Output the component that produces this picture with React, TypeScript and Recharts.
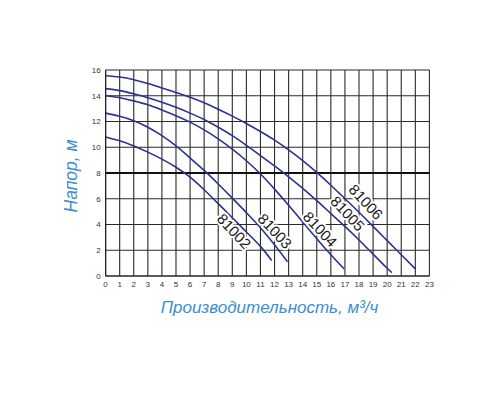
import React from "react";
import { LineChart, Line, XAxis, YAxis, CartesianGrid, ReferenceLine, ReferenceDot } from "recharts";

const xTicks = [0,1,2,3,4,5,6,7,8,9,10,11,12,13,14,15,16,17,18,19,20,21,22,23];
const yTicks = [0,2,4,6,8,10,12,14,16];

const q81002 = [0,1,2,3,4,5,6,7,8,9,10,11,11.8];
const h81002 = [10.8,10.5,10.1,9.62,9.08,8.45,7.68,6.7,5.62,4.52,3.42,2.3,1.2];

const q81003 = [0,1,2,3,4,5,6,7,8,9,10,11,12,12.92];
const h81003 = [12.65,12.4,12.05,11.55,10.9,10.1,9.17,8.2,7.15,6.05,4.92,3.75,2.42,1.1];

const q81004 = [0,1,2,3,4,5,6,7,8,9,10,11,12,13,14,15,16,16.95];
const h81004 = [14.0,13.85,13.6,13.3,12.9,12.45,11.95,11.35,10.65,9.85,8.95,7.92,6.75,5.5,4.2,2.9,1.65,0.54];

const q81005 = [0,1,2,3,4,5,6,7,8,9,10,11,12,13,14,15,16,17,18,19,20,20.34];
const h81005 = [14.55,14.4,14.15,13.85,13.5,13.1,12.65,12.15,11.55,10.9,10.15,9.35,8.55,7.7,6.8,5.85,4.85,3.85,2.8,1.7,0.6,0.26];

const q81006 = [0,1,2,3,4,5,6,7,8,9,10,11,12,13,14,15,16,17,18,19,20,21,22];
const h81006 = [15.55,15.45,15.25,14.95,14.6,14.25,13.88,13.45,12.95,12.42,11.85,11.22,10.55,9.8,8.97,8.05,7.05,6.0,4.95,3.85,2.75,1.65,0.55];

const seriesNames = ["81002","81003","81004","81005","81006"];
const labelX = [9.13, 12.04, 15.25, 17.2, 18.5];
const labelY = [3.49, 3.5, 3.64, 4.86, 5.76];

const build = (q: number[], h: number[]) => q.map((x, i) => ({ x, y: h[i] }));
const seriesData = [
  build(q81002, h81002),
  build(q81003, h81003),
  build(q81004, h81004),
  build(q81005, h81005),
  build(q81006, h81006),
];

const CURVE = "#2d3290";
const FONT = "'Liberation Sans', Arial, sans-serif";
const TITLE = "#3a8fd0";

const CurveLabel = (text: string) => (props: any) => {
  const { cx, cy } = props;
  if (cx == null || cy == null) return <g />;
  return (
    <text
      x={cx}
      y={cy}
      transform={`rotate(47 ${cx} ${cy})`}
      textAnchor="middle"
      dominantBaseline="central"
      fontFamily={FONT}
      fontSize={15}
      fill="#1a1a1a"
      stroke="#ffffff"
      strokeWidth={4}
      paintOrder="stroke"
    >
      {text}
    </text>
  );
};

export default function App() {
  return (
    <div style={{ position: "relative", width: 500, height: 400, background: "#fff" }}>
      <LineChart
        width={500}
        height={400}
        margin={{ top: 62, right: 78.6, bottom: 112, left: 77.6 }}
      >
        <CartesianGrid stroke="#2a2a2a" strokeWidth={1.1} />
        <XAxis
          type="number"
          dataKey="x"
          domain={[0, 23]}
          ticks={xTicks}
          interval={0}
          allowDataOverflow
          height={20}
          tickLine={false}
          tickSize={3}
          tickMargin={2}
          axisLine={{ stroke: "#222", strokeWidth: 1.2 }}
          tick={{ fontSize: 8, fill: "#333", fontFamily: FONT }}
        />
        <YAxis
          type="number"
          domain={[0, 16]}
          ticks={yTicks}
          interval={0}
          allowDataOverflow
          width={20}
          tickLine={false}
          tickSize={3}
          tickMargin={2}
          axisLine={{ stroke: "#222", strokeWidth: 1.2 }}
          tick={{ fontSize: 8, fill: "#333", fontFamily: FONT }}
        />
        <ReferenceLine y={8} stroke="#111" strokeWidth={2} />
        {seriesData.map((d, i) => (
          <Line
            key={seriesNames[i]}
            data={d}
            dataKey="y"
            type="natural"
            stroke={CURVE}
            strokeWidth={1.6}
            dot={false}
            activeDot={false}
            isAnimationActive={false}
          />
        ))}
        {seriesNames.map((n, i) => (
          <ReferenceDot
            key={"lbl" + n}
            x={labelX[i]}
            y={labelY[i]}
            r={0}
            shape={CurveLabel(n)}
          />
        ))}
      </LineChart>
      <svg
        width={500}
        height={400}
        style={{ position: "absolute", left: 0, top: 0, pointerEvents: "none" }}
      >
        <text
          x={261.5}
          y={305}
          textAnchor="middle"
          fontFamily={FONT}
          fontStyle="italic"
          fontSize={17}
          fill={TITLE}
        >
          Производительность, м³/ч
        </text>
        <text
          x={69}
          y={168}
          textAnchor="middle"
          transform="rotate(-90 69 168)"
          fontFamily={FONT}
          fontStyle="italic"
          fontSize={17.5}
          fill={TITLE}
        >
          Напор, м
        </text>
      </svg>
    </div>
  );
}
